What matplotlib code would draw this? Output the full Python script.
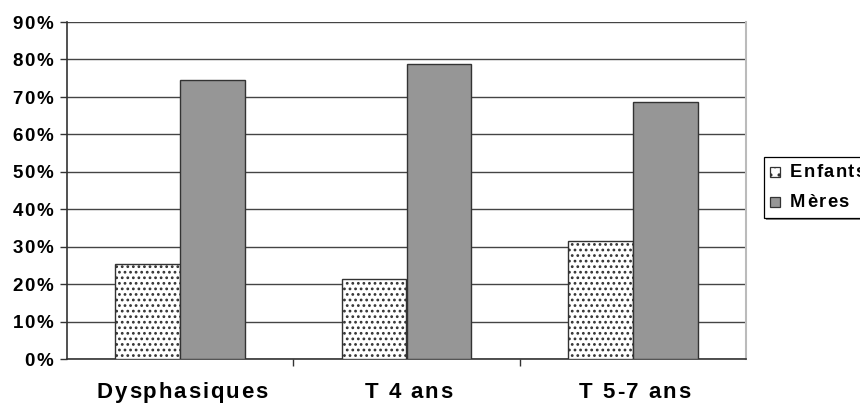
import matplotlib
matplotlib.use("Agg")
import matplotlib.pyplot as plt
from matplotlib.font_manager import FontProperties
from matplotlib.patches import Rectangle
import numpy as np

categories = ["Dysphasiques", "T 4 ans", "T 5-7 ans"]
enfants = [25.4, 21.4, 31.6]
meres = [74.6, 78.9, 68.7]
series_names = ["Enfants", "Mères"]
yticks = [0, 10, 20, 30, 40, 50, 60, 70, 80, 90]

W, H = 860, 403
plt.rcParams['font.family'] = ['Liberation Sans', 'DejaVu Sans']
plt.rcParams['hatch.linewidth'] = 1.2
plt.rcParams['hatch.color'] = '#333333'

fig = plt.figure(figsize=(W / 100, H / 100), dpi=100)
ax = fig.add_axes([67 / W, 1 - 359 / H, (746 - 67) / W, (359 - 22) / H])

x = np.arange(len(categories))
w = 0.287
ax.bar(x - w / 2, enfants, w, color='white', edgecolor='#333333', linewidth=1.0,
       hatch='...', label=series_names[0], zorder=3)
ax.bar(x + w / 2, meres, w, color='#969696', edgecolor='#333333', linewidth=1.0,
       label=series_names[1], zorder=3)

ax.set_xlim(-0.5, 2.5)
ax.set_ylim(0, 90)
ax.set_yticks(yticks)
ax.set_yticklabels([])
ax.yaxis.grid(True, color='#444444', linewidth=1.0, zorder=0)
ax.set_axisbelow(True)
ax.set_xticks([0.5, 1.5])
ax.set_xticklabels([])
ax.tick_params(axis='x', which='major', length=5, width=1, color='#333333')
ax.tick_params(axis='y', length=5, width=1, color='#333333')

for s in ['left', 'bottom']:
    ax.spines[s].set_color('#333333')
    ax.spines[s].set_linewidth(1.2)
ax.spines['right'].set_color('#bbbbbb')
ax.spines['right'].set_linewidth(1.5)
ax.spines['top'].set_visible(False)

renderer = fig.canvas.get_renderer()


def spaced(xp, yp, s, size, sp, ha='left', zorder=3):
    """Draw bold text with extra letter spacing; xp, yp in pixels from top-left, yp = baseline."""
    fp = FontProperties(family='Liberation Sans', weight='bold', size=size)

    def wid(t):
        return renderer.get_text_width_height_descent(t, fp, ismath=False)[0]

    base = wid('I')
    offs = [0.0] + [wid(s[:i] + 'I') - base for i in range(1, len(s))]
    total = offs[-1] + wid(s[-1]) + sp * (len(s) - 1)
    if ha == 'center':
        start = xp - total / 2
    elif ha == 'right':
        start = xp - total
    else:
        start = xp
    for i, (ch, o) in enumerate(zip(s, offs)):
        if ch == ' ':
            continue
        fig.text((start + o + i * sp) / W, 1 - yp / H, ch, fontproperties=fp,
                 ha='left', va='baseline', color='black', zorder=zorder)


# y tick labels
for v in yticks:
    disp = ax.transData.transform((0, v))
    ypix = H - disp[1]
    spaced(53, ypix + 6.7, f"{v}%", 13.5, 1.5, ha='right')

# x category labels
for i, c in enumerate(categories):
    disp = ax.transData.transform((i, 0))
    spaced(disp[0] + 2, 398, c, 16, 1.9, ha='center')


# legend (drawn manually)
def px(xp, yp):
    return (xp / W, 1 - yp / H)


lx0, ly0, lx1, ly1 = 764, 157, 880, 218
fig.add_artist(Rectangle(px(lx0 + 2, ly1 + 2), (lx1 - lx0) / W, (ly1 - ly0) / H,
                         transform=fig.transFigure, facecolor='#888888', edgecolor='none', zorder=5))
fig.add_artist(Rectangle(px(lx0, ly1), (lx1 - lx0) / W, (ly1 - ly0) / H,
                         transform=fig.transFigure, facecolor='white', edgecolor='black',
                         linewidth=0.9, zorder=6))
fig.add_artist(Rectangle(px(770, 177), 10 / W, 10 / H, transform=fig.transFigure,
                         facecolor='white', edgecolor='#333333', hatch='..', linewidth=0.9, zorder=7))
fig.add_artist(Rectangle(px(770, 207), 10 / W, 10 / H, transform=fig.transFigure,
                         facecolor='#969696', edgecolor='#333333', linewidth=0.9, zorder=7))
spaced(790, 177, series_names[0], 13.2, 1.4, zorder=8)
spaced(790, 207, series_names[1], 13.2, 1.4, zorder=8)

fig.savefig("out.png", dpi=100)
